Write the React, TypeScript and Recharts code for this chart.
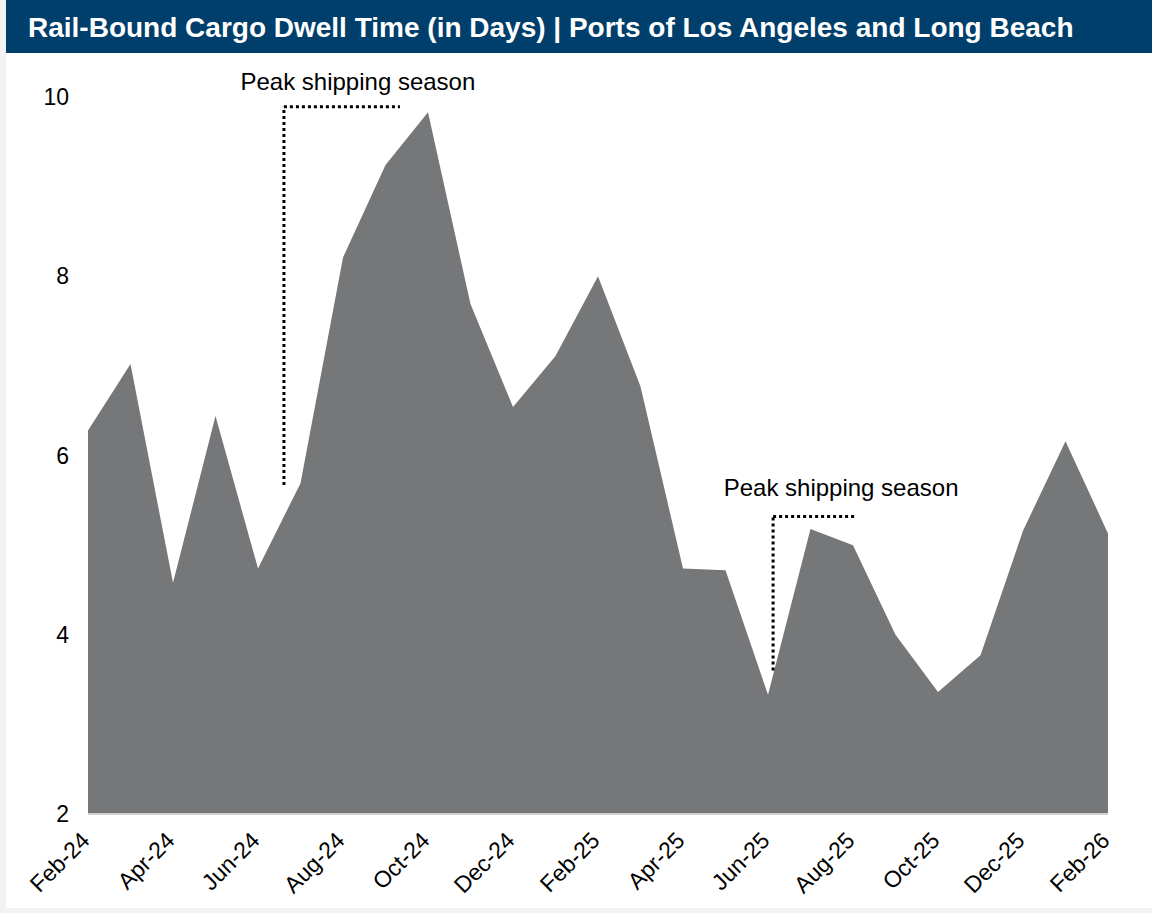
import React from "react";
import { AreaChart, Area, XAxis, YAxis, ReferenceLine, ReferenceDot } from "recharts";

// monthly observations, Feb-24 .. Feb-26
const months = [
  "Feb-24", "Mar-24", "Apr-24", "May-24", "Jun-24", "Jul-24", "Aug-24", "Sep-24", "Oct-24",
  "Nov-24", "Dec-24", "Jan-25", "Feb-25", "Mar-25", "Apr-25", "May-25", "Jun-25", "Jul-25",
  "Aug-25", "Sep-25", "Oct-25", "Nov-25", "Dec-25", "Jan-26", "Feb-26",
];
const dwellDays = [
  6.28, 7.02, 4.58, 6.44, 4.74, 5.69, 8.21, 9.24, 9.83,
  7.69, 6.54, 7.11, 8.0, 6.77, 4.74, 4.72, 3.33, 5.18,
  5.0, 4.0, 3.36, 3.77, 5.16, 6.16, 5.13,
];
const yTicks = [2, 4, 6, 8, 10];
const xTicks = [0, 2, 4, 6, 8, 10, 12, 14, 16, 18, 20, 22, 24];

const peakLabel = "Peak shipping season";

const data = months.map((m, i) => ({ i, month: m, days: dwellDays[i] }));

const FONT = "'Liberation Sans', Arial, sans-serif";

const MonthTick = (props: any) => {
  const { x, y, payload } = props;
  return (
    <g transform={`translate(${x + 3}, ${y + 20}) rotate(-45)`}>
      <text x={0} y={0} textAnchor="end" fontSize={23} fontFamily={FONT} fill="#000">
        {months[payload.value]}
      </text>
    </g>
  );
};

const PeakText = (props: any) => {
  const { viewBox } = props;
  return (
    <text
      x={viewBox.x}
      y={viewBox.y}
      textAnchor="middle"
      dominantBaseline="central"
      fontSize={24}
      fontFamily={FONT}
      fill="#000"
    >
      {peakLabel}
    </text>
  );
};

const dotted = { stroke: "#000", strokeWidth: 3, strokeDasharray: "3 3" };

export default function App() {
  return (
    <div style={{ position: "fixed", left: 0, top: 0, width: 1152, height: 913, background: "#f2f2f2" }}>
      <div style={{ position: "absolute", left: 6, top: 0, width: 1146, height: 908, background: "#fff" }}>
        <div
          style={{
            height: 53,
            background: "#003f6b",
            color: "#fff",
            fontFamily: FONT,
            fontWeight: "bold",
            fontSize: 28,
            lineHeight: "56px",
            paddingLeft: 22,
            whiteSpace: "nowrap",
          }}
        >
          Rail-Bound Cargo Dwell Time (in Days) | Ports of Los Angeles and Long Beach
        </div>
        <AreaChart width={1146} height={855} data={data} margin={{ top: 44, right: 44, left: 0, bottom: 0 }}>
          <XAxis
            dataKey="i"
            type="number"
            domain={[0, 24]}
            ticks={xTicks}
            interval={0}
            tick={<MonthTick />}
            tickLine={false}
            axisLine={{ stroke: "#d0d0d0", strokeWidth: 2 }}
            height={94}
          />
          <YAxis
            domain={[2, 10]}
            ticks={yTicks}
            width={82}
            axisLine={false}
            tickLine={false}
            tickSize={0}
            tickMargin={19}
            tick={{ fontSize: 23, fontFamily: FONT, fill: "#000" }}
          />
          <Area
            type="linear"
            dataKey="days"
            stroke="none"
            fill="#767779"
            fillOpacity={1}
            isAnimationActive={false}
          />
          <ReferenceLine segment={[{ x: 4.61, y: 5.67 }, { x: 4.61, y: 9.89 }]} ifOverflow="visible" {...dotted} />
          <ReferenceLine segment={[{ x: 4.61, y: 9.89 }, { x: 7.34, y: 9.89 }]} ifOverflow="visible" {...dotted} />
          <ReferenceDot x={6.35} y={10.17} r={0} ifOverflow="visible" label={<PeakText />} />
          <ReferenceLine segment={[{ x: 16.12, y: 3.6 }, { x: 16.12, y: 5.32 }]} ifOverflow="visible" {...dotted} />
          <ReferenceLine segment={[{ x: 16.12, y: 5.32 }, { x: 18.05, y: 5.32 }]} ifOverflow="visible" {...dotted} />
          <ReferenceDot x={17.72} y={5.64} r={0} ifOverflow="visible" label={<PeakText />} />
        </AreaChart>
      </div>
    </div>
  );
}
